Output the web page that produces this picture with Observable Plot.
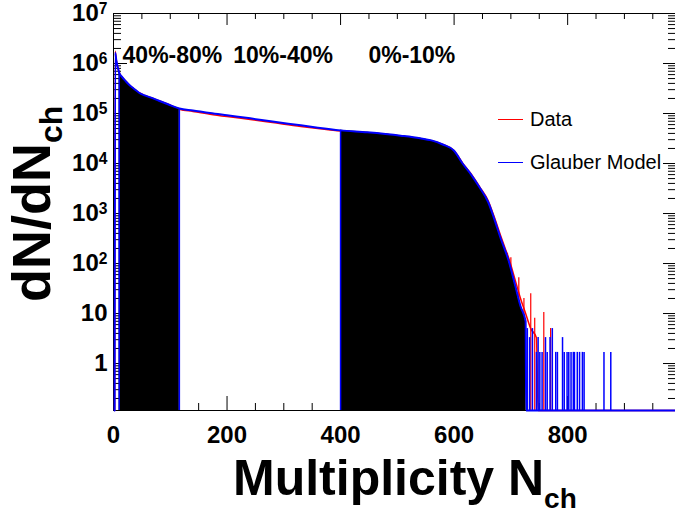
<!DOCTYPE html>
<html><head><meta charset="utf-8">
<script src="https://cdn.jsdelivr.net/npm/d3@7"></script>
<script src="https://cdn.jsdelivr.net/npm/@observablehq/plot@0.6"></script>
<style>
body{margin:0;background:#fff;}
#wrap{position:relative;width:675px;height:515px;font-family:"Liberation Sans",Arial,Helvetica,sans-serif;}
.leg{position:absolute;font-size:20px;line-height:20px;color:#000;white-space:nowrap;}
.legline{position:absolute;height:1px;width:25px;}
</style></head><body><div id="wrap"></div>
<script>
// ---- data ----
const glauberN = [2, 3, 5, 8, 10, 15, 21, 28, 35, 45, 55, 65, 80, 95, 116, 140, 170, 200, 241, 280, 330, 360, 400, 447, 506, 540, 560, 580, 600, 615, 630, 645, 660, 670, 682, 696, 708, 717, 726, 727, 990];
const glauberY = [0, 1.65e6, 1.15e6, 8.0e5, 6.6e5, 5.4e5, 4.5e5, 3.7e5, 3.2e5, 2.6e5, 2.3e5, 2.1e5, 1.8e5, 1.55e5, 1.26e5, 1.15e5, 1.02e5, 9.2e4, 8.0e4, 6.9e4, 5.8e4, 5.2e4, 4.6e4, 4.2e4, 3.6e4, 3.2e4, 2.9e4, 2.4e4, 1.8e4, 1.0e4, 6.0e3, 3.3e3, 1.7e3, 8.3e2, 3.2e2, 1.15e2, 35, 14, 7, 0, 0];
const dataN = [2, 3, 5, 8, 10, 15, 21, 28, 35, 45, 55, 65, 80, 95, 116, 140, 170, 200, 241, 280, 330, 360, 400, 447, 506, 540, 560, 580, 600, 615, 630, 645, 660, 670, 682, 690, 696, 708, 717, 726, 735, 745, 748, 990];
const dataY = [0, 1.75e6, 1.15e6, 8.0e5, 6.6e5, 5.4e5, 4.5e5, 3.7e5, 3.2e5, 2.6e5, 2.3e5, 2.1e5, 1.8e5, 1.55e5, 1.22e5, 1.1e5, 9.7e4, 8.7e4, 7.6e4, 6.6e4, 5.5e4, 5.0e4, 4.45e4, 4.1e4, 3.55e4, 3.15e4, 2.85e4, 2.4e4, 1.8e4, 1.02e4, 6.2e3, 3.4e3, 1.8e3, 9.0e2, 3.6e2, 2.0e2, 1.3e2, 45, 20, 10, 5, 3.3, 0, 0];
const glauberTailN = [729, 733, 738, 745, 748, 751, 755, 761, 764, 769, 773, 779, 782, 791, 794, 799, 802, 806, 810, 812, 817, 821, 826, 829, 864, 876];
const glauberTailY = [5, 3.3, 5, 1.67, 3.3, 1.67, 1.67, 3.3, 1.67, 3.3, 5, 1.67, 1.67, 3.3, 1.67, 1.67, 1.67, 1.67, 1.67, 1.67, 1.67, 1.67, 1.67, 1.67, 1.67, 1.67];
const dataTailN = [679, 694, 700, 714, 723, 735, 742, 758, 770];
const dataTailY = [360, 160, 130, 52, 20, 25, 8, 10.5, 5];
const classLabels = ["40%-80%", "10%-40%", "0%-10%"];
const classLabelN = [16, 211, 449];
const classLabelY = [1.45e6, 1.45e6, 1.45e6];
const filledRanges = [[10, 116], [400, 727]];
const fillEdges = [10, 116, 400];
const xMajorTicks = [0, 200, 400, 600, 800];
const yMajorTicks = [1, 10, 100, 1e3, 1e4, 1e5, 1e6, 1e7];
const legendLabels = ["Data", "Glauber Model"];
const legendColors = ["#ff0000", "#0000ff"];

// ---- build ----
const yMin = 0.115, yMax = 1e7, xMax = 990;
const W = 675, H = 515, mL = 113, mR = 0, mT = 13, mB = 105;
const innerW = W - mL - mR, innerH = H - mT - mB;
const clampY = v => Math.max(v, yMin);
const glauber = glauberN.map((n, i) => ({n, v: clampY(glauberY[i])}));
const data = dataN.map((n, i) => ({n, v: clampY(dataY[i])}));
const gTail = glauberTailN.map((n, i) => ({n, v: glauberTailY[i]}));
const dTail = dataTailN.map((n, i) => ({n, v: dataTailY[i]}));
const fills = filledRanges.map(([a, b]) => glauber.filter(d => d.n >= a && d.n <= b));
const edges = fillEdges.map(n => glauber.find(d => d.n === n));
const xMinor = d3.range(50, 1000, 50).filter(v => v % 200 !== 0);
const yMinor = [];
for (let e = -1; e <= 6; e++) for (let k = 2; k <= 9; k++) { const v = k * Math.pow(10, e); if (v > yMin && v < yMax) yMinor.push(v); }

const font = "'Liberation Sans', Arial, Helvetica, sans-serif";
const crv = "monotone-x";
const chart = Plot.plot({
  width: W, height: H,
  marginLeft: mL, marginRight: mR, marginTop: mT, marginBottom: mB,
  x: {domain: [0, xMax]},
  y: {type: "log", domain: [yMin, yMax]},
  style: {fontFamily: font, background: "white", color: "black"},
  marks: [
    Plot.frame({stroke: "black"}),
    // inward ticks, ROOT style
    Plot.ruleX(xMajorTicks, {insetTop: innerH - 14, stroke: "black"}),
    Plot.ruleX(xMajorTicks, {insetBottom: innerH - 12, stroke: "black"}),
    Plot.ruleX(xMinor, {insetTop: innerH - 7, stroke: "black"}),
    Plot.ruleX(xMinor, {insetBottom: innerH - 6, stroke: "black"}),
    Plot.ruleY(yMajorTicks, {insetRight: innerW - 14, stroke: "black"}),
    Plot.ruleY(yMajorTicks, {insetLeft: innerW - 12, stroke: "black"}),
    Plot.ruleY(yMinor, {insetRight: innerW - 8, stroke: "black"}),
    Plot.ruleY(yMinor, {insetLeft: innerW - 7, stroke: "black"}),
    // data histogram (red) under the filled classes
    Plot.line(data, {x: "n", y: "v", stroke: "#ff0000", strokeWidth: 1.5, curve: crv}),
    Plot.ruleX(dTail, {x: "n", y1: yMin, y2: "v", stroke: "#ff0000", strokeWidth: 1.2}),
    ...fills.map(f => Plot.areaY(f, {x: "n", y1: yMin, y2: "v", fill: "black", curve: crv})),
    Plot.ruleX(edges, {x: "n", y1: yMin, y2: "v", stroke: "#0000ff", strokeWidth: 1.5}),
    Plot.line(glauber, {x: "n", y: "v", stroke: "#0000ff", strokeWidth: 2, curve: crv}),
    Plot.ruleX(gTail, {x: "n", y1: yMin, y2: "v", stroke: "#0000ff", strokeWidth: 1.5}),
    Plot.axisX({ticks: xMajorTicks, tickSize: 0, tickPadding: 15, label: null, fontSize: 24, fontWeight: "bold"}),
    Plot.axisY({ticks: yMajorTicks, tickSize: 0, tickPadding: 6, label: null, fontSize: 24, fontWeight: "bold",
      tickFormat: d => d >= 100 ? "10^" + Math.round(Math.log10(d)) : String(d)}),
    Plot.text(classLabels, {x: (d, i) => classLabelN[i], y: (d, i) => classLabelY[i], text: d => d,
      textAnchor: "start", fontSize: 23, fontWeight: "bold", fill: "black"})
  ]
});

const svg = d3.select(chart);
svg.selectAll('g[aria-label$="tick label"]').attr("font-size", 24).attr("font-weight", "bold").attr("font-family", font);
svg.selectAll('g[aria-label="y-axis tick label"] text').each(function () {
  const t = d3.select(this);
  const s = t.text();
  if (s.startsWith("10^")) {
    const e = s.slice(3);
    t.text("10");
    t.append("tspan").attr("dy", "-0.45em").attr("font-size", "0.65em").text(e);
  }
});
// axis titles with subscripts
const xt = svg.append("text").attr("x", 233).attr("y", 495).attr("text-anchor", "start")
  .attr("font-family", font).attr("font-weight", "bold").attr("font-size", 50).attr("fill", "black");
xt.append("tspan").text("Multiplicity N");
xt.append("tspan").attr("dy", 13).attr("font-size", 28).text("ch");
const yt = svg.append("text").attr("transform", "translate(50,302) rotate(-90)").attr("text-anchor", "start")
  .attr("font-family", font).attr("font-weight", "bold").attr("font-size", 54).attr("fill", "black");
yt.append("tspan").text("dN/dN");
yt.append("tspan").attr("dy", 12).attr("font-size", 32).text("ch");

const wrap = document.getElementById("wrap");
wrap.appendChild(chart);
// legend overlay
const legTop = [119, 162];
legendLabels.forEach((lab, i) => {
  const ln = document.createElement("div");
  ln.className = "legline";
  ln.style.left = "498px"; ln.style.top = legTop[i] + "px";
  ln.style.background = legendColors[i];
  wrap.appendChild(ln);
  const tx = document.createElement("div");
  tx.className = "leg";
  tx.style.left = "530px"; tx.style.top = (legTop[i] - 10) + "px";
  tx.textContent = lab;
  wrap.appendChild(tx);
});
</script></body></html>
